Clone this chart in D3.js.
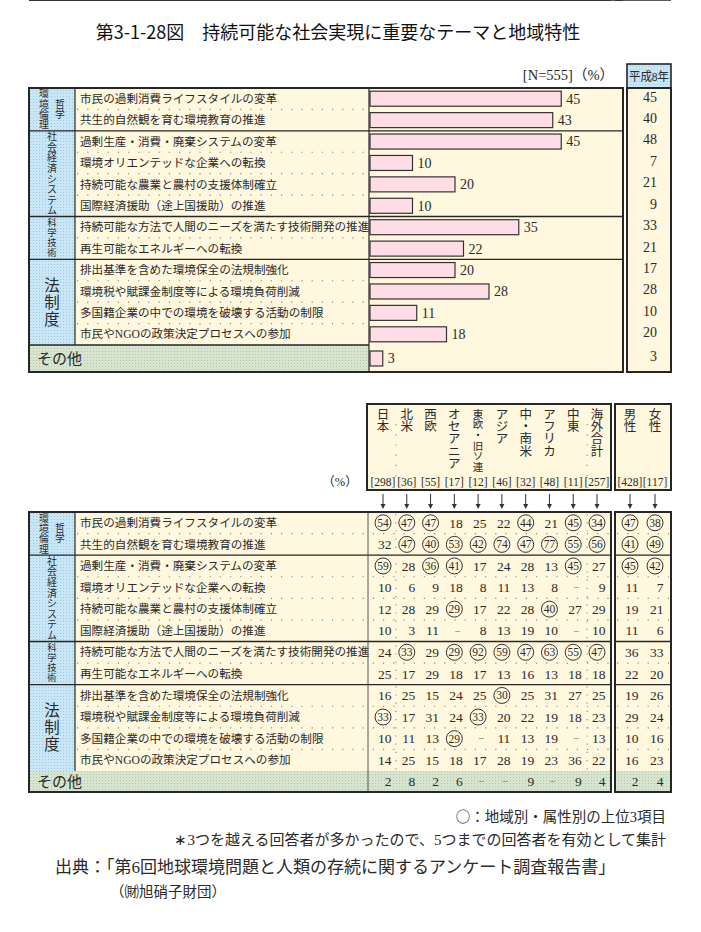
<!DOCTYPE html>
<html>
<head>
<meta charset="utf-8">
<script src="https://cdn.jsdelivr.net/npm/d3@7"></script>
<style>
  body { margin: 0; background: #fff; }
  svg text { font-family: "Liberation Serif", "Noto Sans CJK JP", serif; fill: #2a2a2a; }
  .sans { font-family: "Noto Sans CJK JP", sans-serif !important; }
</style>
</head>
<body>
<svg id="chart" width="701" height="932"></svg>
<script>
// テーマ（上下の表で共通）
var themes = [
  '市民の過剰消費ライフスタイルの変革',
  '共生的自然観を育む環境教育の推進',
  '過剰生産・消費・廃棄システムの変革',
  '環境オリエンテッドな企業への転換',
  '持続可能な農業と農村の支援体制確立',
  '国際経済援助（途上国援助）の推進',
  '持続可能な方法で人間のニーズを満たす技術開発の推進',
  '再生可能なエネルギーへの転換',
  '排出基準を含めた環境保全の法規制強化',
  '環境税や賦課金制度等による環境負荷削減',
  '多国籍企業の中での環境を破壊する活動の制限',
  '市民やNGOの政策決定プロセスへの参加'
];
var otherLabel = 'その他';

var groups = [
  { name: '環境倫理', sub: '哲学', start: 0, end: 2 },
  { name: '社会経済システム', start: 2, end: 6 },
  { name: '科学技術', start: 6, end: 8 },
  { name: '法制度', start: 8, end: 12 }
];

// 上段：N=555 の割合（%）と平成8年
var share2000 = [45, 43, 45, 10, 20, 10, 35, 22, 20, 28, 11, 18, 3];
var shareH8   = [45, 40, 48, 7, 21, 9, 33, 21, 17, 28, 10, 20, 3];

// 下段：地域別・属性別
var regions = ['日本', '北米', '西欧', 'オセアニア', '東欧・旧ソ連', 'アジア', '中・南米', 'アフリカ', '中東', '海外合計'];
var genders = ['男性', '女性'];
var sampleSizes = [298, 36, 55, 17, 12, 46, 32, 48, 11, 257, 428, 117];

// null は「－」
var regionValues = [
  [54, 47, 47, 18, 25, 22, 44, 21, 45, 34, 47, 38],
  [32, 47, 40, 53, 42, 74, 47, 77, 55, 56, 41, 49],
  [59, 28, 36, 41, 17, 24, 28, 13, 45, 27, 45, 42],
  [10, 6, 9, 18, 8, 11, 13, 8, null, 9, 11, 7],
  [12, 28, 29, 29, 17, 22, 28, 40, 27, 29, 19, 21],
  [10, 3, 11, null, 8, 13, 19, 10, null, 10, 11, 6],
  [24, 33, 29, 29, 92, 59, 47, 63, 55, 47, 36, 33],
  [25, 17, 29, 18, 17, 13, 16, 13, 18, 18, 22, 20],
  [16, 25, 15, 24, 25, 30, 25, 31, 27, 25, 19, 26],
  [33, 17, 31, 24, 33, 20, 22, 19, 18, 23, 29, 24],
  [10, 11, 13, 29, null, 11, 13, 19, null, 13, 10, 16],
  [14, 25, 15, 18, 17, 28, 19, 23, 36, 22, 16, 23],
  [2, 8, 2, 6, null, null, 9, null, 9, 4, 2, 4]
];
// 上位3項目（○）の列番号
var topThree = [
  [0, 1, 2, 6, 8, 9, 10, 11],
  [1, 2, 3, 4, 5, 6, 7, 8, 9, 10, 11],
  [0, 2, 3, 8, 10, 11],
  [],
  [3, 7],
  [],
  [1, 3, 4, 5, 6, 7, 8, 9],
  [],
  [5],
  [0, 4],
  [3],
  [],
  []
];

var svg = d3.select('#chart');
var defs = svg.append('defs');

function dotPattern(id, base, dot) {
  var p = defs.append('pattern').attr('id', id)
    .attr('width', 3).attr('height', 3).attr('patternUnits', 'userSpaceOnUse');
  p.append('rect').attr('width', 3).attr('height', 3).attr('fill', base);
  p.append('rect').attr('width', 1).attr('height', 1).attr('fill', dot);
}
dotPattern('blueDots', '#c9e6f7', '#9ec9e3');
dotPattern('greenDots', '#d7e5d0', '#b3c8aa');

var cream = '#fff7de';
var ink = '#262626';
var leftX = 29, groupRight = 75, labelX = 80, splitX = 369;

// タイトル
svg.append('text').attr('class', 'sans')
  .attr('x', 338).attr('y', 39).attr('text-anchor', 'middle')
  .attr('font-size', 18).style('fill', '#111')
  .text('第3-1-28図　持続可能な社会実現に重要なテーマと地域特性');

// 左側（分類・テーマ）共通部分
function drawLeft(g, y, other, right, leaderRight) {
  var step = y.step();
  g.append('rect').attr('x', leftX).attr('y', y.range()[0])
    .attr('width', right - leftX).attr('height', other[1] - y.range()[0]).attr('fill', cream);
  g.append('rect').attr('x', leftX).attr('y', y.range()[0])
    .attr('width', groupRight - leftX).attr('height', other[0] - y.range()[0]).attr('fill', 'url(#blueDots)');

  // 点線（行の区切り）
  var inner = d3.range(1, 12).filter(function(i) {
    return !groups.some(function(gr) { return gr.start === i; });
  });
  g.selectAll('.leader').data(inner).join('line')
    .attr('x1', groupRight + 2).attr('x2', leaderRight)
    .attr('y1', function(i) { return y(i); }).attr('y2', function(i) { return y(i); })
    .attr('stroke', '#888').attr('stroke-width', 1.1).attr('stroke-dasharray', '1.2,9');

  // 分類の区切り線
  g.selectAll('.gline').data(groups.slice(1).map(function(d) { return d.start; }).concat([12])).join('line')
    .attr('x1', leftX).attr('x2', right)
    .attr('y1', function(i) { return y(i); }).attr('y2', function(i) { return y(i); })
    .attr('stroke', ink).attr('stroke-width', 1.3);
  g.append('line').attr('x1', groupRight).attr('x2', groupRight)
    .attr('y1', y.range()[0]).attr('y2', other[0]).attr('stroke', ink).attr('stroke-width', 1.2);

  // テーマ
  g.selectAll('.theme').data(themes).join('text')
    .attr('x', labelX).attr('y', function(d, i) { return y(i) + step / 2; })
    .attr('dy', '0.36em').attr('font-size', 11.6).text(function(d) { return d; });

  // 分類ラベル（縦書き）
  var gSizes = [9.8, 10, 9.4, 15.5], gSteps = [10.3, 10.6, 10, 17];
  groups.forEach(function(gr, k) {
    var cy = (y(gr.start) + y(gr.end - 1) + step) / 2;
    var chars = Array.from(gr.name);
    var cx = gr.sub ? 44 : 52;
    g.selectAll(null).data(chars).join('text')
      .attr('x', cx).attr('text-anchor', 'middle').attr('font-size', gSizes[k])
      .attr('y', function(d, j) { return cy + (j - (chars.length - 1) / 2) * gSteps[k]; })
      .attr('dy', '0.36em').text(function(d) { return d; });
    if (gr.sub) {
      var subChars = Array.from(gr.sub);
      g.selectAll(null).data(subChars).join('text')
        .attr('x', 60).attr('text-anchor', 'middle').attr('font-size', gSizes[k])
        .attr('y', function(d, j) { return cy + (j - 0.5) * 10.3; })
        .attr('dy', '0.36em').text(function(d) { return d; });
    }
  });
}

// ===== 上段 =====
var topG = svg.append('g');
var yTop = d3.scaleBand().domain(d3.range(12)).range([88, 345]).paddingInner(0);
var topOther = [345, 372];
var xBar = d3.scaleLinear().domain([0, 60]).range([splitX + 1, 625]);
var topRight = 623;

drawLeft(topG, yTop, topOther, topRight, splitX);
topG.append('rect').attr('x', leftX).attr('y', topOther[0])
  .attr('width', splitX - leftX).attr('height', topOther[1] - topOther[0]).attr('fill', 'url(#greenDots)');
topG.append('line').attr('x1', leftX).attr('x2', splitX).attr('y1', topOther[0]).attr('y2', topOther[0])
  .attr('stroke', ink).attr('stroke-width', 1.3);
topG.append('text').attr('x', 37).attr('y', (topOther[0] + topOther[1]) / 2).attr('dy', '0.36em')
  .attr('font-size', 15).text(otherLabel);
topG.append('line').attr('x1', splitX).attr('x2', splitX).attr('y1', 88).attr('y2', 372)
  .attr('stroke', ink).attr('stroke-width', 1.2);

function barY(i) {
  return i < 12 ? yTop(i) + yTop.bandwidth() / 2 : (topOther[0] + topOther[1]) / 2;
}
topG.selectAll('.bar').data(share2000).join('rect')
  .attr('x', xBar(0)).attr('y', function(d, i) { return barY(i) - 7.5; })
  .attr('width', function(d) { return xBar(d) - xBar(0); }).attr('height', 15)
  .attr('fill', '#ffdde6').attr('stroke', '#333').attr('stroke-width', 1.2);
topG.selectAll('.barv').data(share2000).join('text')
  .attr('x', function(d) { return xBar(d) + 5; }).attr('y', function(d, i) { return barY(i); })
  .attr('dy', '0.35em').attr('font-size', 14).text(function(d) { return d; });

topG.append('rect').attr('x', leftX).attr('y', 88).attr('width', topRight - leftX).attr('height', 284)
  .attr('fill', 'none').attr('stroke', ink).attr('stroke-width', 2);

// 平成8年列
topG.append('rect').attr('x', 627).attr('y', 64).attr('width', 44).attr('height', 24)
  .attr('fill', 'url(#blueDots)').attr('stroke', ink).attr('stroke-width', 1.6);
topG.append('text').attr('x', 629).attr('y', 76).attr('dy', '0.36em')
  .attr('font-size', 12.5).attr('textLength', 40).attr('lengthAdjust', 'spacingAndGlyphs')
  .text('平成8年');
topG.append('rect').attr('x', 627).attr('y', 88).attr('width', 44).attr('height', 284)
  .attr('fill', cream).attr('stroke', ink).attr('stroke-width', 2);
topG.selectAll('.h8').data(shareH8).join('text')
  .attr('x', 657).attr('y', function(d, i) { return barY(i) - 2; }).attr('dy', '0.35em')
  .attr('text-anchor', 'end').attr('font-size', 14).text(function(d) { return d; });

topG.append('text').attr('x', 614).attr('y', 80).attr('text-anchor', 'end').attr('font-size', 14.5)
  .text('[N=555]（%）');

// ===== 下段 =====
var bot = svg.append('g');
var yBot = d3.scaleBand().domain(d3.range(12)).range([512, 771]);
var botOther = [771, 792];
var botRight = 611, gLeft = 615, gRight = 671;
var xReg = d3.scalePoint().domain(regions).range([383, 597]);
var xGen = d3.scalePoint().domain(genders).range([630, 655]);
var cols = regions.concat(genders);
function colX(c) { return c < regions.length ? xReg(regions[c]) : xGen(genders[c - regions.length]); }

// 男女の枠
bot.append('rect').attr('x', gLeft).attr('y', 512).attr('width', gRight - gLeft).attr('height', 280).attr('fill', cream);
drawLeft(bot, yBot, botOther, botRight, botRight);
bot.selectAll('.gleader').data(d3.range(1, 12).filter(function(i) {
    return !groups.some(function(gr) { return gr.start === i; });
  })).join('line')
  .attr('x1', gLeft + 2).attr('x2', gRight - 2)
  .attr('y1', function(i) { return yBot(i); }).attr('y2', function(i) { return yBot(i); })
  .attr('stroke', '#888').attr('stroke-width', 1.1).attr('stroke-dasharray', '1.2,9');
bot.selectAll('.ggline').data(groups.slice(1).map(function(d) { return d.start; }).concat([12])).join('line')
  .attr('x1', gLeft).attr('x2', gRight)
  .attr('y1', function(i) { return yBot(i); }).attr('y2', function(i) { return yBot(i); })
  .attr('stroke', ink).attr('stroke-width', 1.3);

// その他（緑）
bot.append('rect').attr('x', leftX).attr('y', botOther[0]).attr('width', botRight - leftX)
  .attr('height', botOther[1] - botOther[0]).attr('fill', 'url(#greenDots)');
bot.append('rect').attr('x', gLeft).attr('y', botOther[0]).attr('width', gRight - gLeft)
  .attr('height', botOther[1] - botOther[0]).attr('fill', 'url(#greenDots)');
bot.append('text').attr('x', 37).attr('y', (botOther[0] + botOther[1]) / 2).attr('dy', '0.36em')
  .attr('font-size', 15).text(otherLabel);

// 縦の点線（日本｜各地域｜海外合計）
var vSeps = [(colX(0) + colX(1)) / 2 + 1, (colX(8) + colX(9)) / 2 + 2];
bot.selectAll('.vsep').data(vSeps).join('line')
  .attr('x1', function(d) { return d; }).attr('x2', function(d) { return d; })
  .attr('y1', 514).attr('y2', 770)
  .attr('stroke', '#888').attr('stroke-width', 1.1).attr('stroke-dasharray', '1.2,7');
bot.append('line').attr('x1', 368).attr('x2', 368).attr('y1', 512).attr('y2', 792)
  .attr('stroke', '#555').attr('stroke-width', 1);

// 数値
function rowY(r) { return r < 12 ? yBot(r) + yBot.bandwidth() / 2 : (botOther[0] + botOther[1]) / 2; }
var cells = d3.merge(regionValues.map(function(row, r) {
  return row.map(function(v, c) {
    return { r: r, c: c, v: v, top: topThree[r].indexOf(c) >= 0 };
  });
}));
bot.selectAll('.ring').data(cells.filter(function(d) { return d.top; })).join('circle')
  .attr('cx', function(d) { return colX(d.c); }).attr('cy', function(d) { return rowY(d.r); })
  .attr('r', 8).attr('fill', 'none').attr('stroke', '#333').attr('stroke-width', 1);
bot.selectAll('.val').data(cells).join('text')
  .attr('x', function(d) { return d.top ? colX(d.c) : (d.v === null ? colX(d.c) + 3 : colX(d.c) + 8.5); })
  .attr('y', function(d) { return rowY(d.r); }).attr('dy', '0.35em')
  .attr('text-anchor', function(d) { return d.top || d.v === null ? 'middle' : 'end'; })
  .attr('font-size', function(d) { return d.top ? 11.5 : (d.v === null ? 11 : 13.5); })
  .style('fill', function(d) { return d.v === null ? '#777' : '#2a2a2a'; })
  .text(function(d) { return d.v === null ? '\u2212' : d.v; });

bot.append('rect').attr('x', leftX).attr('y', 512).attr('width', botRight - leftX).attr('height', 280)
  .attr('fill', 'none').attr('stroke', ink).attr('stroke-width', 2);
bot.append('rect').attr('x', gLeft).attr('y', 512).attr('width', gRight - gLeft).attr('height', 280)
  .attr('fill', 'none').attr('stroke', ink).attr('stroke-width', 2);

// 見出し（縦書き）
bot.append('rect').attr('x', 367).attr('y', 404).attr('width', botRight - 367).attr('height', 86)
  .attr('fill', cream).attr('stroke', ink).attr('stroke-width', 2);
bot.append('rect').attr('x', gLeft).attr('y', 404).attr('width', gRight - gLeft).attr('height', 86)
  .attr('fill', cream).attr('stroke', ink).attr('stroke-width', 2);
bot.selectAll('.hsep').data(vSeps).join('line')
  .attr('x1', function(d) { return d; }).attr('x2', function(d) { return d; })
  .attr('y1', 424).attr('y2', 482)
  .attr('stroke', '#888').attr('stroke-width', 1.1).attr('stroke-dasharray', '1.2,9');

cols.forEach(function(name, c) {
  var chars = Array.from(name);
  var small = name === '東欧・旧ソ連';
  var fs = small ? 10.5 : 12.5, st = small ? 10.6 : 12.4;
  bot.selectAll(null).data(chars).join('text')
    .attr('x', colX(c)).attr('text-anchor', 'middle').attr('font-size', fs)
    .attr('y', function(d, j) { return 414 + j * st; }).attr('dy', '0.36em')
    .text(function(d) { return d; });
});
bot.selectAll('.nsize').data(sampleSizes).join('text')
  .attr('x', function(d, c) { return colX(c); }).attr('y', 482).attr('dy', '0.35em')
  .attr('text-anchor', 'middle').attr('font-size', 11.5).text(function(d) { return '[' + d + ']'; });
bot.append('text').attr('x', 340).attr('y', 482).attr('dy', '0.35em').attr('text-anchor', 'middle')
  .attr('font-size', 12.5).text('（%）');

// 矢印
var arrows = bot.selectAll('.arrow').data(cols).join('g')
  .attr('transform', function(d, c) { return 'translate(' + colX(c) + ',0)'; });
arrows.append('line').attr('x1', 0).attr('x2', 0).attr('y1', 494).attr('y2', 505)
  .attr('stroke', '#333').attr('stroke-width', 1);
arrows.append('path').attr('d', 'M-2.5,504L2.5,504L0,509Z').attr('fill', '#333');

// 注記・出典
var note1 = svg.append('text').attr('x', 666).attr('y', 822).attr('text-anchor', 'end').attr('font-size', 14.5);
note1.append('tspan').attr('class', 'sans').text('○');
note1.append('tspan').text('：地域別・属性別の上位3項目');
svg.append('text').attr('x', 666).attr('y', 845).attr('text-anchor', 'end').attr('font-size', 15)
  .text('∗3つを越える回答者が多かったので、5つまでの回答者を有効として集計');
svg.append('text').attr('x', 55).attr('y', 873).attr('font-size', 17)
  .text('出典：「第6回地球環境問題と人類の存続に関するアンケート調査報告書」');
svg.append('text').attr('x', 110).attr('y', 897).attr('font-size', 14.5)
  .text('（㈶旭硝子財団）');
</script>
</body>
</html>
